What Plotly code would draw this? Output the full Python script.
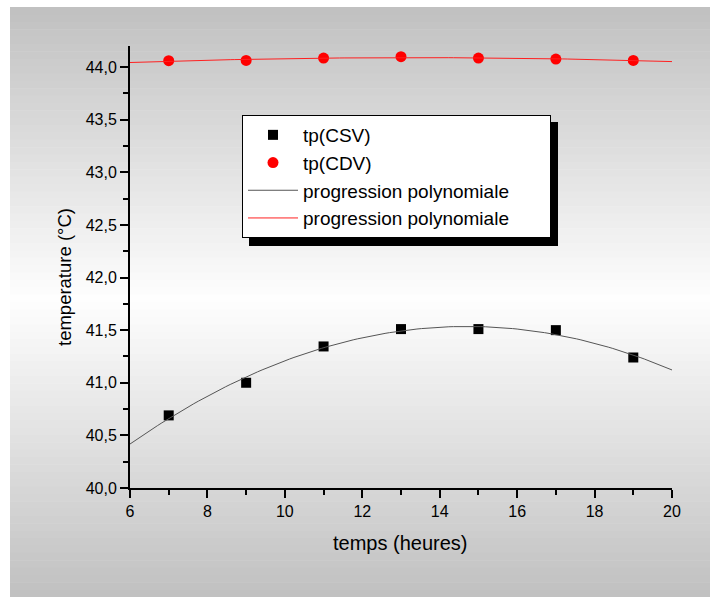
import numpy as np
import plotly.graph_objects as go

# ---- data ----
hours = [7, 9, 11, 13, 15, 17, 19]
tp_csv = [40.69, 41.00, 41.345, 41.51, 41.51, 41.50, 41.24]
tp_cdv = [44.06, 44.063, 44.085, 44.098, 44.085, 44.076, 44.063]
x_ticks = [6, 8, 10, 12, 14, 16, 18, 20]
y_ticks = [40.0, 40.5, 41.0, 41.5, 42.0, 42.5, 43.0, 43.5, 44.0]
x_title = "temps (heures)"
y_title = "temperature (°C)"

# polynomial (2nd degree) trend lines, as in the original chart
xf = np.linspace(6, 20, 120)
fit_csv = np.polyval(np.polyfit(hours, tp_csv, 2), xf)
fit_cdv = np.polyval(np.polyfit(hours, tp_cdv, 2), xf)

W, H = 710, 597
L, R, T, B = 130, 672, 46, 488  # plot area in pixels

def px(x):
    return (x - L) / (R - L)

def py(y):
    return (B - y) / (B - T)

FONT = "Arial, Liberation Sans, sans-serif"

fig = go.Figure()
fig.add_trace(go.Scatter(x=hours, y=tp_csv, mode="markers", name="tp(CSV)",
                         marker=dict(symbol="square", size=10, color="black")))
fig.add_trace(go.Scatter(x=hours, y=tp_cdv, mode="markers", name="tp(CDV)",
                         marker=dict(symbol="circle", size=11, color="#ff0000")))
fig.add_trace(go.Scatter(x=xf, y=fit_csv, mode="lines", name="progression polynomiale",
                         line=dict(color="#555555", width=1)))
fig.add_trace(go.Scatter(x=xf, y=fit_cdv, mode="lines", name="progression polynomiale",
                         line=dict(color="#ff2020", width=1)))

shapes = []
# gradient background (gray -> white -> gray)
top, bottom, mid = 7, 597, 300
n = 80
for i in range(n):
    y0 = top + (bottom - top) * i / n
    y1 = top + (bottom - top) * (i + 1) / n + 0.5
    yc = (y0 + y1) / 2
    if yc < mid:
        f = (yc - top) / (mid - top)
    else:
        f = (bottom - yc) / (bottom - mid)
    v = int(round(192 + (254 - 192) * f))
    shapes.append(dict(type="rect", xref="paper", yref="paper", layer="below",
                       x0=px(10), x1=px(712), y0=py(y1), y1=py(y0),
                       line=dict(width=0), fillcolor=f"rgb({v},{v},{v})"))
# legend shadow
shapes.append(dict(type="rect", xref="paper", yref="paper", layer="above",
                   x0=px(249), x1=px(558), y0=py(246), y1=py(122),
                   line=dict(width=0), fillcolor="black"))

axis_common = dict(showgrid=False, zeroline=False, showline=True, linecolor="black",
                   linewidth=2, ticks="outside", ticklen=8, tickwidth=2, tickcolor="black",
                   tickfont=dict(family=FONT, size=16, color="black"), mirror=False)

annotations = [
    dict(text=x_title, xref="paper", yref="paper", x=px(400), y=py(543),
         xanchor="center", yanchor="middle", showarrow=False,
         font=dict(family=FONT, size=20, color="black")),
    dict(text=y_title, xref="paper", yref="paper", x=px(64), y=py(277),
         xanchor="center", yanchor="middle", showarrow=False, textangle=-90,
         font=dict(family=FONT, size=18.5, color="black")),
]

fig.update_layout(
    width=W, height=H,
    margin=dict(l=L, r=W - R, t=T, b=H - B, autoexpand=False),
    paper_bgcolor="white", plot_bgcolor="rgba(0,0,0,0)",
    separators=",.",
    showlegend=True,
    legend=dict(x=px(242), y=py(115), xanchor="left", yanchor="top",
                orientation="h", entrywidth=242, entrywidthmode="pixels",
                bgcolor="white", bordercolor="black", borderwidth=1,
                font=dict(family=FONT, size=19, color="black"),
                itemwidth=50, tracegroupgap=0),
    shapes=shapes,
    annotations=annotations,
    xaxis=dict(range=[6, 20], tickvals=x_ticks, ticktext=[str(v) for v in x_ticks],
               minor=dict(dtick=1, ticks="outside", ticklen=5, tickwidth=2, tickcolor="black"),
               **axis_common),
    yaxis=dict(range=[40, 44.2], tickvals=y_ticks, tickformat=".1f",
               minor=dict(dtick=0.25, ticks="outside", ticklen=5, tickwidth=2, tickcolor="black"),
               **axis_common),
)

fig.write_html("out.html")
